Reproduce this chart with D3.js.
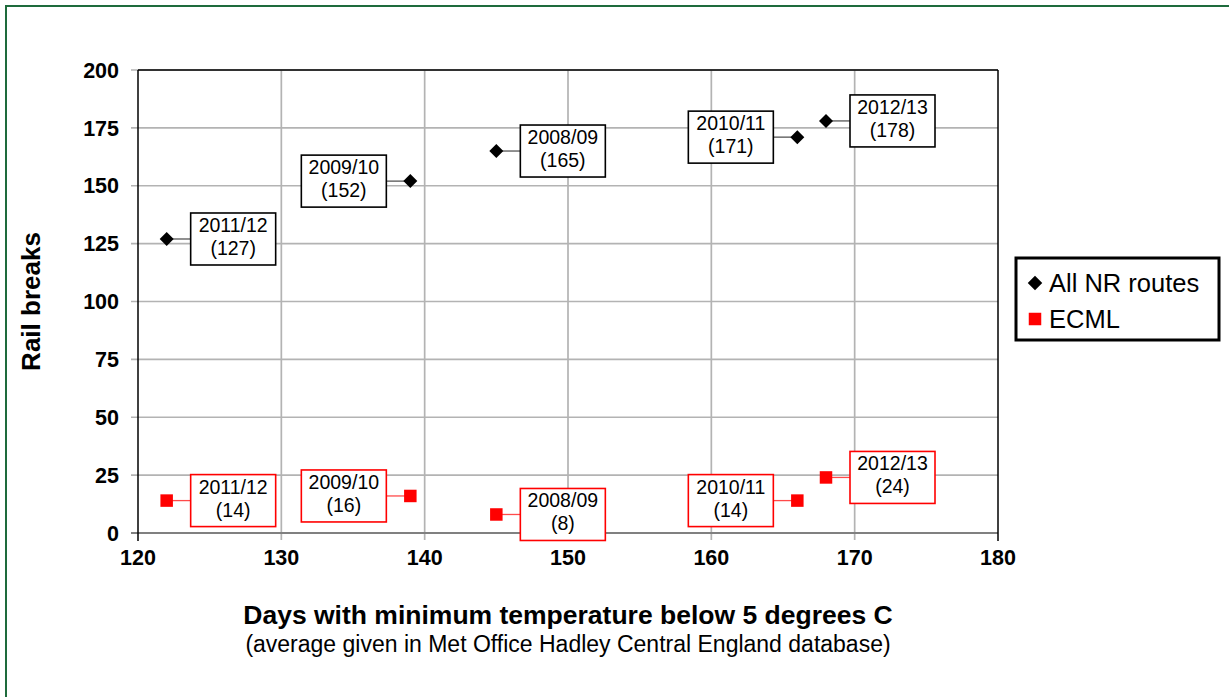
<!DOCTYPE html>
<html>
<head>
<meta charset="utf-8">
<script src="https://cdn.jsdelivr.net/npm/d3@7"></script>
<style>
  html, body { margin: 0; padding: 0; background: #fff; }
  svg { display: block; font-family: "Liberation Sans", Arial, sans-serif; }
</style>
</head>
<body>
<svg id="chart" width="1229" height="697"></svg>
<script>
// Winter seasons and their cold-day counts
const seasons = ["2011/12", "2009/10", "2008/09", "2010/11", "2012/13"];
const coldDays = [122, 139, 145, 166, 168];
// Rail breaks per season
const allRoutes = [127, 152, 165, 171, 178];
const ecml = [14, 16, 8, 14, 24];
// Which side of the marker each label sits on
const allSide = ["right", "left", "right", "left", "right"];
const ecmlSide = ["right", "left", "right", "left", "right"];

const xTicks = [120, 130, 140, 150, 160, 170, 180];
const yTicks = [0, 25, 50, 75, 100, 125, 150, 175, 200];
const seriesNames = ["All NR routes", "ECML"];

const svg = d3.select("#chart");
const W = 1229, H = 697;
const plot = { left: 138, right: 998, top: 70, bottom: 533 };

// outer frame
svg.append("rect").attr("x", 6).attr("y", 6).attr("width", W + 20).attr("height", H + 20)
  .attr("fill", "#fff").attr("stroke", "#1e6b3c").attr("stroke-width", 2);

const x = d3.scaleLinear().domain([120, 180]).range([plot.left, plot.right]);
const y = d3.scaleLinear().domain([0, 200]).range([plot.bottom, plot.top]);

// gridlines
const grid = svg.append("g");
grid.selectAll(".gx").data(xTicks.slice(1, -1)).join("line")
  .attr("x1", d => x(d)).attr("x2", d => x(d))
  .attr("y1", plot.top).attr("y2", plot.bottom + 7)
  .attr("stroke", "#b3b3b3").attr("stroke-width", 1.7);
grid.selectAll(".gy").data(yTicks.slice(1)).join("line")
  .attr("x1", plot.left - 7).attr("x2", plot.right)
  .attr("y1", d => y(d)).attr("y2", d => y(d))
  .attr("stroke", "#b3b3b3").attr("stroke-width", 1.7);

// axes frame
svg.append("line").attr("x1", plot.left - 7).attr("x2", plot.right)
  .attr("y1", y(0)).attr("y2", y(0)).attr("stroke", "#808080").attr("stroke-width", 2);
svg.append("line").attr("x1", plot.left).attr("x2", plot.left)
  .attr("y1", plot.top).attr("y2", plot.bottom + 8).attr("stroke", "#000").attr("stroke-width", 1.5);
svg.append("line").attr("x1", plot.left).attr("x2", plot.right)
  .attr("y1", plot.top).attr("y2", plot.top).attr("stroke", "#000").attr("stroke-width", 1.5);
svg.append("line").attr("x1", plot.right).attr("x2", plot.right)
  .attr("y1", plot.top).attr("y2", plot.bottom + 8).attr("stroke", "#000").attr("stroke-width", 1.5);

// tick labels
svg.append("g").selectAll("text").data(yTicks).join("text")
  .attr("x", plot.left - 19).attr("y", d => y(d)).attr("dy", "0.36em")
  .attr("text-anchor", "end").attr("font-size", 21.5).attr("font-weight", "bold")
  .text(d => d);
svg.append("g").selectAll("text").data(xTicks).join("text")
  .attr("x", d => x(d)).attr("y", 565)
  .attr("text-anchor", "middle").attr("font-size", 21.5).attr("font-weight", "bold")
  .text(d => d);

// axis titles
svg.append("text").attr("transform", `translate(40,${(plot.top + plot.bottom) / 2}) rotate(-90)`)
  .attr("text-anchor", "middle").attr("font-size", 26).attr("font-weight", "bold")
  .text("Rail breaks");
svg.append("text").attr("x", 568).attr("y", 624).attr("text-anchor", "middle")
  .attr("font-size", 26.5).attr("font-weight", "bold")
  .text("Days with minimum temperature below 5 degrees C");
svg.append("text").attr("x", 568).attr("y", 652).attr("text-anchor", "middle")
  .attr("font-size", 23)
  .text("(average given in Met Office Hadley Central England database)");

// marker shapes: diamond is a square turned 45 degrees
function markerPath(kind, s) {
  const h = s / 2;
  if (kind === "diamond") return `M0,${-h}L${h},0L0,${h}L${-h},0Z`;
  return `M${-h},${-h}H${h}V${h}H${-h}Z`;
}

// labelled points
const boxW = 85, boxH = 52, gap = 24;
function drawSeries(values, sides, color, lineColor, kind, size) {
  const g = svg.append("g");
  values.forEach((v, i) => {
    const px = x(coldDays[i]), py = y(v);
    const right = sides[i] === "right";
    const bx = right ? px + gap : px - gap - boxW;
    const by = py - boxH / 2;
    g.append("line").attr("x1", px).attr("x2", right ? bx : bx + boxW)
      .attr("y1", py).attr("y2", py).attr("stroke", lineColor).attr("stroke-width", 1.3);
    g.append("rect").attr("x", bx).attr("y", by).attr("width", boxW).attr("height", boxH)
      .attr("fill", "#fff").attr("stroke", color).attr("stroke-width", 1.6);
    g.append("text").attr("x", bx + boxW / 2).attr("y", by + 19).attr("text-anchor", "middle")
      .attr("font-size", 19.5).text(seasons[i]);
    g.append("text").attr("x", bx + boxW / 2).attr("y", by + 42).attr("text-anchor", "middle")
      .attr("font-size", 19.5).text(`(${v})`);
    g.append("path").attr("transform", `translate(${px},${py})`)
      .attr("d", markerPath(kind, size)).attr("fill", color);
  });
}
drawSeries(allRoutes, allSide, "#000", "#555", "diamond", 14);
drawSeries(ecml, ecmlSide, "#ff0000", "#ff4a4a", "square", 12.5);

// legend
const lg = svg.append("g");
lg.append("rect").attr("x", 1016).attr("y", 258).attr("width", 203).attr("height", 82)
  .attr("fill", "#fff").attr("stroke", "#000").attr("stroke-width", 3);
const legendKinds = ["diamond", "square"];
const legendColors = ["#000", "#ff0000"];
const legendSizes = [14.5, 12.5];
seriesNames.forEach((name, i) => {
  const ly = 283 + i * 36;
  lg.append("path").attr("transform", `translate(1035,${ly})`)
    .attr("d", markerPath(legendKinds[i], legendSizes[i])).attr("fill", legendColors[i]);
  lg.append("text").attr("x", 1049).attr("y", ly).attr("dy", "0.36em")
    .attr("font-size", 25.5).text(name);
});
</script>
</body>
</html>
